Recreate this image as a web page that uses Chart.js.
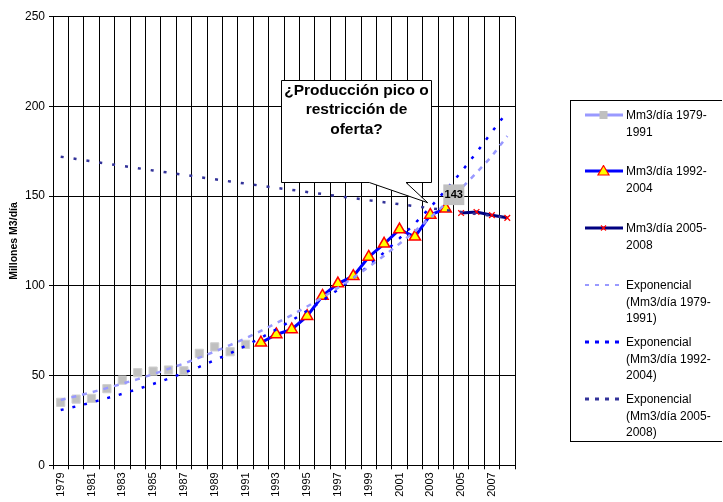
<!DOCTYPE html>
<html>
<head>
<meta charset="utf-8">
<script src="https://cdn.jsdelivr.net/npm/chart.js@4/dist/chart.umd.min.js"></script>
<style>
  body { margin: 0; background: #fff; }
  #wrap { position: relative; width: 723px; height: 502px; }
  #legend {
    position: absolute; left: 570px; top: 100px; width: 152px; height: 342px;
    border: 1px solid #000; border-right: none; box-sizing: border-box;
    font-family: Arial, "Liberation Sans", sans-serif; font-size: 12px; color: #000;
  }
  .item { position: absolute; left: 0; }
  .item canvas { position: absolute; left: 13px; top: 2px; }
  .item span { position: absolute; left: 55px; top: 0; line-height: 16.5px; white-space: nowrap; }
</style>
</head>
<body>
<div id="wrap">
  <canvas id="chart" width="723" height="502"></canvas>
  <div id="legend"></div>
</div>
<script>
var years = ['1979', '1980', '1981', '1982', '1983', '1984', '1985', '1986', '1987', '1988',
  '1989', '1990', '1991', '1992', '1993', '1994', '1995', '1996', '1997', '1998',
  '1999', '2000', '2001', '2002', '2003', '2004', '2005', '2006', '2007', '2008'];

// Mm3/dia, serie 1979-1991
var prod7991 = [35.1, 36.9, 37.3, 42.7, 47.5, 51.6, 52.5, 53.1, 52.7, 62.4,
  66.0, 63.3, 67.4, null, null, null, null, null, null, null,
  null, null, null, null, null, null, null, null, null, null];

// Mm3/dia, serie 1992-2004
var prod9204 = [null, null, null, null, null, null, null, null, null, null,
  null, null, null, 68.3, 72.9, 75.7, 83.1, 94.4, 101.3, 105.4,
  116.1, 123.4, 131.4, 127.3, 139.5, 143.0, null, null, null, null];

// Mm3/dia, serie 2005-2008
var prod0508 = [null, null, null, null, null, null, null, null, null, null,
  null, null, null, null, null, null, null, null, null, null,
  null, null, null, null, null, null, 140.6, 141.2, 139.4, 137.9];

// lineas de tendencia exponencial
var trend7991 = [36.4, 38.5, 40.7, 43.0, 45.5, 48.0, 50.8, 53.7, 56.7, 60.0,
  63.4, 67.0, 70.8, 74.9, 79.2, 83.7, 88.5, 93.5, 98.9, 104.5,
  110.5, 116.8, 123.5, 130.5, 138.0, 145.9, 154.2, 163.0, 172.3, 183.5];
var trend9204 = [30.8, 32.8, 35.0, 37.4, 39.8, 42.5, 45.3, 48.3, 51.5, 54.9,
  58.6, 62.4, 66.6, 71.0, 75.7, 80.7, 86.1, 91.8, 97.9, 104.3,
  111.2, 118.6, 126.5, 134.8, 143.8, 153.3, 163.4, 174.3, 185.8, 197.0];
var trend0508 = [172.0, 170.7, 169.4, 168.1, 166.9, 165.6, 164.3, 163.1, 161.9, 160.6,
  159.4, 158.2, 157.0, 155.8, 154.6, 153.5, 152.3, 151.2, 150.0, 148.9,
  147.7, 146.6, 145.5, 144.4, 143.3, 142.2, 141.2, 140.1, 139.0, 138.0];

var yTicks = [0, 50, 100, 150, 200, 250];

var FONT = 'Arial, "Liberation Sans", sans-serif';
var LAV = '#9999ff', BLUE = '#0000ff', NAVY = '#000080', NAVY2 = '#333399';

// etiqueta del 2004 y globo de texto
var annotations = {
  id: 'annotations',
  afterDatasetsDraw: function (chart) {
    var ctx = chart.ctx;
    var meta = chart.getDatasetMeta(1);
    var idx = 25;
    var pt = meta.data[idx];
    ctx.save();
    ctx.fillStyle = '#c0c0c0';
    ctx.fillRect(pt.x - 2.4, pt.y - 24.3, 21, 20.7);
    ctx.fillStyle = '#000';
    ctx.font = 'bold 11px ' + FONT;
    ctx.textAlign = 'center';
    ctx.textBaseline = 'middle';
    ctx.fillText(String(Math.round(prod9204[idx])), pt.x + 8.1, pt.y - 13.9);

    // callout
    ctx.beginPath();
    ctx.moveTo(281.5, 80.5);
    ctx.lineTo(431.5, 80.5);
    ctx.lineTo(431.5, 182.5);
    ctx.lineTo(406, 182.5);
    ctx.lineTo(427.7, 202.7);
    ctx.lineTo(369.3, 182.5);
    ctx.lineTo(281.5, 182.5);
    ctx.closePath();
    ctx.fillStyle = '#fff';
    ctx.fill();
    ctx.strokeStyle = '#000';
    ctx.lineWidth = 1;
    ctx.stroke();
    ctx.fillStyle = '#000';
    ctx.font = 'bold 15.5px ' + FONT;
    ctx.fillText('¿Producción pico o', 356.5, 91);
    ctx.fillText('restricción de', 356.5, 110);
    ctx.fillText('oferta?', 356.5, 130);
    ctx.restore();
  }
};

new Chart(document.getElementById('chart'), {
  type: 'line',
  data: {
    labels: years,
    datasets: [
      {
        label: 'Mm3/día 1979-1991',
        data: prod7991,
        showLine: false,
        pointStyle: 'rect',
        pointRadius: 5.8,
        pointBackgroundColor: '#c0c0c0',
        pointBorderColor: '#d0d0d0',
        pointBorderWidth: 1,
        borderColor: LAV,
        order: 2,
      },
      {
        label: 'Mm3/día 1992-2004',
        data: prod9204,
        borderColor: BLUE,
        borderWidth: 3,
        pointStyle: 'triangle',
        pointRadius: 6.5,
        pointBackgroundColor: '#ffff00',
        pointBorderColor: '#ff0000',
        pointBorderWidth: 1.5,
        order: 2,
      },
      {
        label: 'Mm3/día 2005-2008',
        data: prod0508,
        borderColor: NAVY,
        borderWidth: 3,
        pointStyle: 'crossRot',
        pointRadius: 4,
        pointBorderColor: '#ff0000',
        pointBorderWidth: 1.3,
        order: 2,
      },
      {
        label: 'Exponencial (Mm3/día 1979-1991)',
        data: trend7991,
        borderColor: LAV,
        borderWidth: 2.5,
        borderDash: [5, 6],
        pointRadius: 0,
        order: 1,
      },
      {
        label: 'Exponencial (Mm3/día 1992-2004)',
        data: trend9204,
        borderColor: BLUE,
        borderWidth: 2.5,
        borderDash: [3, 9],
        pointRadius: 0,
        order: 1,
      },
      {
        label: 'Exponencial (Mm3/día 2005-2008)',
        data: trend0508,
        borderColor: NAVY2,
        borderWidth: 2.5,
        borderDash: [3, 10],
        pointRadius: 0,
        order: 1,
      },
    ],
  },
  options: {
    responsive: false,
    animation: false,
    devicePixelRatio: 1,
    layout: { padding: { left: 3, right: 208, top: 16.7, bottom: 0 } },
    plugins: { legend: { display: false }, tooltip: { enabled: false } },
    scales: {
      x: {
        offset: true,
        afterFit: function (s) { s.height = 36.7; },
        grid: { color: '#000', lineWidth: 1, tickLength: 4, offset: true },
        border: { color: '#000' },
        ticks: {
          autoSkip: false,
          minRotation: 90,
          maxRotation: 90,
          padding: 3,
          color: '#000',
          font: { family: FONT, size: 11 },
          callback: function (v, i) { return i % 2 === 0 ? years[i] : ''; },
        },
      },
      y: {
        min: 0,
        max: 250,
        afterFit: function (s) { s.width = 50; },
        afterBuildTicks: function (s) { s.ticks = yTicks.map(function (v) { return { value: v }; }); },
        grid: { color: '#000', lineWidth: 1, tickLength: 4 },
        border: { color: '#000' },
        title: {
          display: true,
          text: 'Millones M3/día',
          color: '#000',
          font: { family: FONT, size: 10.5, weight: 'bold' },
          padding: { top: 5, bottom: 0 },
        },
        ticks: { color: '#000', padding: 4, font: { family: FONT, size: 12 } },
      },
    },
  },
  plugins: [annotations],
});

// leyenda
var legendItems = [
  { lines: ['Mm3/día 1979-', '1991'], top: 6, color: LAV, width: 3, dash: null, marker: 'rect' },
  { lines: ['Mm3/día 1992-', '2004'], top: 62, color: BLUE, width: 3, dash: null, marker: 'triangle' },
  { lines: ['Mm3/día 2005-', '2008'], top: 119, color: NAVY, width: 3, dash: null, marker: 'cross' },
  { lines: ['Exponencial', '(Mm3/día 1979-', '1991)'], top: 176, color: LAV, width: 2, dash: [4, 6], marker: null },
  { lines: ['Exponencial', '(Mm3/día 1992-', '2004)'], top: 233, color: BLUE, width: 3, dash: [4, 6], marker: null },
  { lines: ['Exponencial', '(Mm3/día 2005-', '2008)'], top: 290, color: NAVY2, width: 3, dash: [4, 6], marker: null },
];

var legend = document.getElementById('legend');
legendItems.forEach(function (it) {
  var div = document.createElement('div');
  div.className = 'item';
  div.style.top = it.top + 'px';
  var c = document.createElement('canvas');
  c.width = 40; c.height = 12;
  var g = c.getContext('2d');
  g.strokeStyle = it.color;
  g.lineWidth = it.width;
  if (it.dash) g.setLineDash(it.dash);
  g.beginPath(); g.moveTo(1, 6); g.lineTo(39, 6); g.stroke();
  g.setLineDash([]);
  if (it.marker === 'rect') {
    g.fillStyle = '#c0c0c0';
    g.fillRect(15.5, 2, 8, 8);
  } else if (it.marker === 'triangle') {
    g.beginPath(); g.moveTo(19.5, 0.5); g.lineTo(25, 10); g.lineTo(14, 10); g.closePath();
    g.fillStyle = '#ffff00'; g.fill();
    g.strokeStyle = '#ff0000'; g.lineWidth = 1.2; g.stroke();
  } else if (it.marker === 'cross') {
    g.strokeStyle = '#ff0000'; g.lineWidth = 1.2;
    g.beginPath(); g.moveTo(17, 3.5); g.lineTo(22, 8.5); g.moveTo(22, 3.5); g.lineTo(17, 8.5); g.stroke();
  }
  div.appendChild(c);
  var span = document.createElement('span');
  span.innerHTML = it.lines.join('<br>');
  div.appendChild(span);
  legend.appendChild(div);
});
</script>
</body>
</html>
